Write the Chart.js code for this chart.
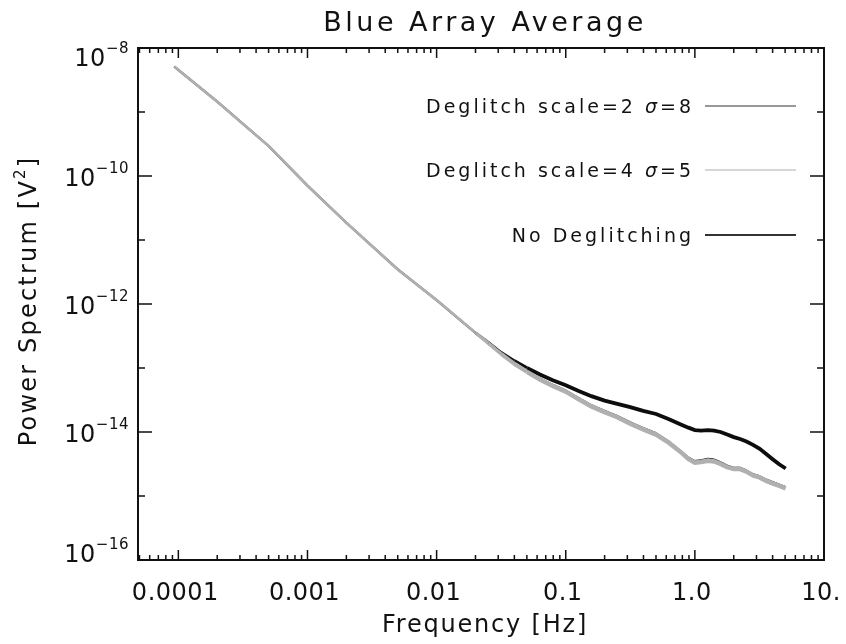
<!DOCTYPE html>
<html>
<head>
<meta charset="utf-8">
<script src="https://cdn.jsdelivr.net/npm/chart.js@4.4.1/dist/chart.umd.min.js"></script>
<style>
  html, body { margin: 0; padding: 0; background: #fff; }
  canvas { display: block; }
</style>
</head>
<body>
<canvas id="spectrum" width="846" height="644"></canvas>
<script>
const titleText = "Blue Array Average";
const xTitle = "Frequency [Hz]";
const yTitle = ["Power Spectrum [V", "2", "]"];

// below ~0.02 Hz the three spectra sit on top of each other
const freqLow = [9.3e-5, 2e-4, 5e-4, 1e-3, 2e-3, 5e-3, 1e-2, 2e-2];
const powerLow = [5.13e-9, 1.45e-9, 2.95e-10, 7.08e-11, 1.86e-11, 3.47e-12, 1.15e-12, 3.55e-13];

const freqHigh = [0.0251, 0.0316, 0.0398, 0.0501, 0.0631, 0.0794, 0.1, 0.126, 0.158, 0.2,
                  0.251, 0.316, 0.398, 0.501, 0.631, 0.794, 0.891, 1.0, 1.12, 1.26,
                  1.41, 1.58, 1.78, 2.0, 2.24, 2.51, 2.82, 3.16, 3.55, 3.98, 4.47, 5.05];
const noDeglitch = [2.51e-13, 1.74e-13, 1.29e-13, 1.00e-13, 7.94e-14, 6.46e-14, 5.37e-14, 4.37e-14, 3.63e-14, 3.09e-14,
                    2.75e-14, 2.45e-14, 2.14e-14, 1.91e-14, 1.58e-14, 1.29e-14, 1.17e-14, 1.07e-14, 1.05e-14, 1.07e-14,
                    1.05e-14, 1.00e-14, 9.12e-15, 8.32e-15, 7.76e-15, 7.08e-15, 6.31e-15, 5.50e-15, 4.57e-15, 3.80e-15,
                    3.16e-15, 2.69e-15];
const deglitch4s5 = [2.45e-13, 1.66e-13, 1.17e-13, 8.71e-14, 6.61e-14, 5.25e-14, 4.27e-14, 3.24e-14, 2.51e-14, 2.04e-14,
                     1.70e-14, 1.35e-14, 1.10e-14, 9.12e-15, 6.76e-15, 4.68e-15, 3.80e-15, 3.31e-15, 3.39e-15, 3.55e-15,
                     3.47e-15, 3.16e-15, 2.82e-15, 2.63e-15, 2.63e-15, 2.40e-15, 2.09e-15, 1.95e-15, 1.74e-15, 1.58e-15,
                     1.45e-15, 1.32e-15];
const deglitch2s8 = [2.48e-13, 1.70e-13, 1.22e-13, 9.20e-14, 7.00e-14, 5.60e-14, 4.57e-14, 3.47e-14, 2.69e-14, 2.19e-14,
                     1.82e-14, 1.45e-14, 1.18e-14, 9.80e-15, 7.25e-15, 5.00e-15, 4.10e-15, 3.60e-15, 3.70e-15, 3.90e-15,
                     3.80e-15, 3.45e-15, 3.05e-15, 2.82e-15, 2.82e-15, 2.57e-15, 2.24e-15, 2.09e-15, 1.86e-15, 1.70e-15,
                     1.55e-15, 1.41e-15];

const xTickValues = [1e-4, 1e-3, 1e-2, 0.1, 1, 10];
const xTickLabels = ["0.0001", "0.001", "0.01", "0.1", "1.0", "10."];
const yMajorExp = [-8, -10, -12, -14, -16];
const yMinorExp = [-9, -11, -13, -15];

const FONT = '"DejaVu Sans", sans-serif';

function series(values) {
    const f = freqLow.concat(freqHigh);
    const v = powerLow.concat(values);
    return f.map((x, i) => ({ x: x, y: v[i] }));
}

// thinner where the curves still overlap, wider (noisy) above the split
function widthBySplit(low, high) {
    return c => {
        const f = c.p0.parsed.x;
        if (f < 0.01) return low;
        if (f < 0.05) return low + (high - low) * (Math.log10(f) + 2) / 0.7;
        return high;
    };
}

// draws text pieces {text, size, italic, raise} left to right from x
function drawPieces(ctx, pieces, x, y) {
    pieces.forEach(p => {
        ctx.font = (p.italic ? "italic " : "") + p.size + "px " + FONT;
        ctx.fillText(p.text, x, y - (p.raise || 0));
        x += ctx.measureText(p.text).width;
    });
}
function piecesWidth(ctx, pieces) {
    let w = 0;
    pieces.forEach(p => {
        ctx.font = (p.italic ? "italic " : "") + p.size + "px " + FONT;
        w += ctx.measureText(p.text).width;
    });
    return w;
}

const idlFrame = {
    id: "idlFrame",
    afterDraw(chart) {
        const ctx = chart.ctx;
        const a = chart.chartArea;
        const x = chart.scales.x, y = chart.scales.y;
        ctx.save();
        ctx.fillStyle = "#111";
        ctx.strokeStyle = "#111";

        // box
        ctx.lineWidth = 2;
        ctx.strokeRect(a.left, a.top, a.right - a.left, a.bottom - a.top);

        // inward ticks on all four sides
        ctx.lineWidth = 1.5;
        ctx.beginPath();
        for (let e = -5; e <= 1; e++) {
            for (let k = 1; k <= 9; k++) {
                const v = k * Math.pow(10, e);
                if (v < x.min || v > x.max * 1.0001) continue;
                const px = x.getPixelForValue(v);
                const len = k === 1 ? 10 : 5;
                ctx.moveTo(px, a.bottom); ctx.lineTo(px, a.bottom - len);
                ctx.moveTo(px, a.top); ctx.lineTo(px, a.top + len);
            }
        }
        yMajorExp.concat(yMinorExp).forEach(e => {
            const py = y.getPixelForValue(Math.pow(10, e));
            const len = yMajorExp.includes(e) ? 14 : 7;
            ctx.moveTo(a.left, py); ctx.lineTo(a.left + len, py);
            ctx.moveTo(a.right, py); ctx.lineTo(a.right - len, py);
        });
        ctx.stroke();

        // x tick labels
        ctx.letterSpacing = "0.5px";
        ctx.font = "24px " + FONT;
        ctx.textAlign = "center";
        ctx.textBaseline = "alphabetic";
        xTickValues.forEach((v, i) => {
            ctx.fillText(xTickLabels[i], x.getPixelForValue(v) - 3, 600);
        });

        // y tick labels 10^n, right aligned
        ctx.textAlign = "left";
        yMajorExp.forEach(e => {
            const py = y.getPixelForValue(Math.pow(10, e));
            const base = Math.min(Math.max(py + 10, a.top + 18), a.bottom + 2);
            const pieces = [
                { text: "10", size: 24 },
                { text: "\u2212" + Math.abs(e), size: 15, raise: 13 }
            ];
            drawPieces(ctx, pieces, 129 - piecesWidth(ctx, pieces), base);
        });

        // title
        ctx.letterSpacing = "3.5px";
        ctx.font = "27px " + FONT;
        ctx.textAlign = "center";
        ctx.fillText(titleText, (a.left + a.right) / 2 + 4, 31);

        // x axis title
        ctx.letterSpacing = "1.8px";
        ctx.font = "24px " + FONT;
        ctx.fillText(xTitle, (a.left + a.right) / 2 + 4, 632);

        // y axis title
        ctx.save();
        ctx.translate(36, (a.top + a.bottom) / 2 - 3);
        ctx.rotate(-Math.PI / 2);
        ctx.textAlign = "left";
        ctx.letterSpacing = "2.2px";
        const yt = [
            { text: yTitle[0], size: 24 },
            { text: yTitle[1], size: 15, raise: 11 },
            { text: yTitle[2], size: 24 }
        ];
        drawPieces(ctx, yt, -piecesWidth(ctx, yt) / 2, 0);
        ctx.restore();

        // legend: right aligned text with a line sample after it
        ctx.letterSpacing = "3px";
        ctx.textAlign = "left";
        const rows = [106, 170, 235];
        chart.data.datasets.forEach((ds, i) => {
            const parts = ds.label.split("\u03c3");
            const pieces = [{ text: parts[0], size: 19 }];
            if (parts.length > 1) {
                pieces.push({ text: "\u03c3", size: 19, italic: true });
                pieces.push({ text: parts[1], size: 19 });
            }
            const ly = rows[i];
            ctx.fillStyle = "#111";
            drawPieces(ctx, pieces, 694 - piecesWidth(ctx, pieces), ly + 7);
            ctx.strokeStyle = ds.legendColor;
            ctx.lineWidth = ds.legendWidth;
            ctx.beginPath();
            ctx.moveTo(705, ly); ctx.lineTo(796, ly);
            ctx.stroke();
        });

        ctx.restore();
    }
};

new Chart(document.getElementById("spectrum"), {
    type: "line",
    data: {
        datasets: [
            { label: "Deglitch scale=2 \u03c3=8", data: series(deglitch2s8), borderColor: "#333", borderWidth: 1,
              order: 1, legendColor: "#333", legendWidth: 1.2 },
            { label: "Deglitch scale=4 \u03c3=5", data: series(deglitch4s5), borderColor: "#b0b0b0", borderWidth: 4.5,
              segment: { borderWidth: widthBySplit(2.6, 4.5) },
              order: 0, legendColor: "#c8c8c8", legendWidth: 1.5 },
            { label: "No Deglitching", data: series(noDeglitch), borderColor: "#0d0d0d", borderWidth: 3.5,
              segment: { borderWidth: widthBySplit(2.2, 3.8) },
              order: 2, legendColor: "#333", legendWidth: 2 }
        ]
    },
    options: {
        responsive: false,
        animation: false,
        devicePixelRatio: 1,
        events: [],
        elements: { point: { radius: 0 }, line: { tension: 0 } },
        layout: { padding: { top: 48, right: 22, left: 0, bottom: 0 } },
        plugins: { legend: { display: false }, title: { display: false }, tooltip: { enabled: false } },
        scales: {
            x: {
                type: "logarithmic",
                min: 4.87e-5,
                max: 10,
                ticks: { display: false },
                grid: { display: false },
                border: { display: false },
                afterFit(scale) { scale.height = 84; }
            },
            y: {
                type: "logarithmic",
                min: 1e-16,
                max: 1e-8,
                ticks: { display: false },
                grid: { display: false },
                border: { display: false },
                afterFit(scale) { scale.width = 138; }
            }
        }
    },
    plugins: [idlFrame]
});
</script>
</body>
</html>
